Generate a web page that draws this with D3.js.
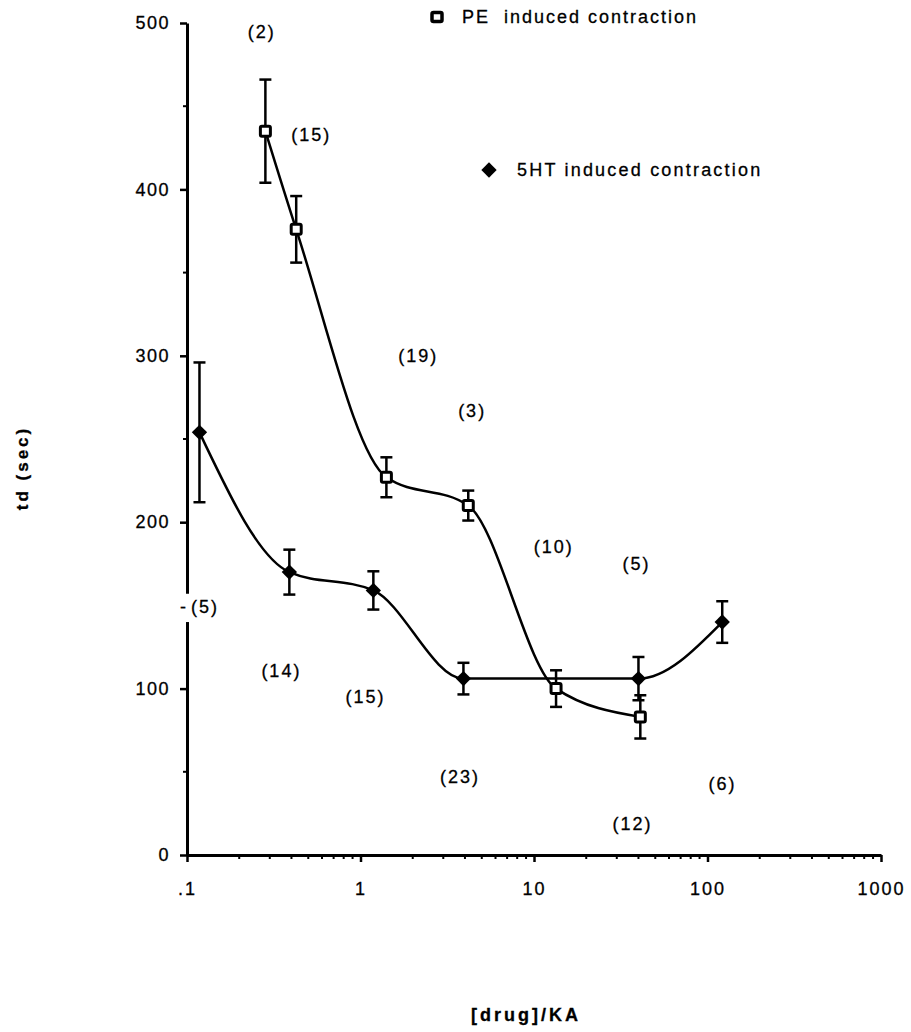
<!DOCTYPE html>
<html>
<head>
<meta charset="utf-8">
<script src="https://cdn.jsdelivr.net/npm/d3@7"></script>
<style>
  body { margin: 0; background: #fff; }
  text { font-family: "Liberation Sans", Arial, sans-serif; stroke: #000; stroke-width: 0.3px; white-space: pre; }
</style>
</head>
<body>
<div id="chart"></div>
<script>

// data

let peDose = [0.283, 0.426, 1.41, 4.18, 13.4, 41];
let peTd = [435, 376, 227, 210, 100, 83];
let peErr = [31, 20, 12, 9, 11, 13];

let htDose = [0.118, 0.389, 1.186, 3.92, 40, 121.6];
let htTd = [254, 170, 159, 106, 106, 140];
let htErr = [42, 13.5, 11.5, 9.5, 13, 12.5];

// n labels shown next to the points
let nLabels = ["(2)", "(15)", "(19)", "(3)", "(10)", "(5)", "(14)", "(15)", "(23)", "(12)", "(6)"];
let nDose = [0.27, 0.52, 2.15, 4.4, 13.0, 39, 0.35, 1.07, 3.75, 37, 122];
let nTd = [495, 433, 300, 267, 185, 175, 111, 95, 47, 19, 43];

let yTicks = [0, 100, 200, 300, 400, 500];
let xTicks = [0.1, 1, 10, 100, 1000];
let xTickLabels = [".1", "1", "10", "100", "1000"];

let margin = { top: 23, right: 30, bottom: 177, left: 187 };
let width = 911 - margin.left - margin.right;
let height = 1032 - margin.top - margin.bottom;

let x = d3.scaleLog()
  .domain([0.1, 1000])
  .range([0, width]);

let y = d3.scaleLinear()
  .domain([0, 500])
  .range([height, 0]);

let svg = d3.select("#chart")
  .append("svg")
    .attr("width", 911)
    .attr("height", 1032)
  .append("g")
    .attr("transform", `translate(${margin.left},${margin.top})`);

// minor ticks first so the main axes sit on top

let minorY = d3.range(50, 500, 100);
svg.selectAll(".minorY")
  .data(minorY)
  .join("line")
  .attr("x1", -4)
  .attr("x2", 0)
  .attr("y1", d => y(d))
  .attr("y2", d => y(d))
  .attr("stroke", "#000")
  .attr("stroke-width", 2);

let minorX = [];
for (let dec of [0.1, 1, 10, 100]) {
  for (let k = 2; k <= 9; k++) minorX.push(dec * k);
}
svg.selectAll(".minorX")
  .data(minorX)
  .join("line")
  .attr("x1", d => x(d))
  .attr("x2", d => x(d))
  .attr("y1", height)
  .attr("y2", height + 4)
  .attr("stroke", "#000")
  .attr("stroke-width", 2);

// y axis

svg.append("g")
  .call(d3.axisLeft(y)
    .tickValues(yTicks)
    .tickSize(7)
    .tickSizeOuter(0)
    .tickPadding(10))
  .call(g => g.select(".domain").attr("stroke-width", 3))
  .call(g => g.selectAll(".tick line").attr("stroke-width", 2.5))
  .selectAll(".tick text")
  .style("font-size", "18px")
  .style("letter-spacing", "1.5px")
  .style("fill", "#000");

// x axis

svg.append("g")
  .attr("transform", `translate(0,${height})`)
  .call(d3.axisBottom(x)
    .tickValues(xTicks)
    .tickFormat((d, i) => xTickLabels[i])
    .tickSize(7)
    .tickSizeOuter(0)
    .tickPadding(20))
  .call(g => g.select(".domain").attr("stroke-width", 3))
  .call(g => g.selectAll(".tick line").attr("stroke-width", 2.5))
  .selectAll(".tick text")
  .style("font-size", "18px")
  .style("letter-spacing", "2px")
  .style("fill", "#000");

// the "(5)" label breaks the y axis line

svg.append("rect")
  .attr("x", -4)
  .attr("y", y(157))
  .attr("width", 8)
  .attr("height", y(140) - y(157))
  .attr("fill", "#fff");

svg.append("text")
  .attr("x", -4)
  .attr("y", y(149))
  .attr("dy", "0.35em")
  .style("font-size", "18px")
  .style("text-anchor", "middle")
  .text("-");

svg.append("text")
  .attr("x", 4)
  .attr("y", y(149))
  .attr("dy", "0.35em")
  .style("font-size", "18px")
  .style("letter-spacing", "2px")
  .text("(5)");

// smooth curves

let line = d3.line()
  .x(d => x(d[0]))
  .y(d => y(d[1]))
  .curve(d3.curveMonotoneX);

let peData = peDose.map((d, i) => [d, peTd[i], peErr[i]]);
let htData = htDose.map((d, i) => [d, htTd[i], htErr[i]]);

for (let data of [peData, htData]) {
  svg.append("path")
    .datum(data)
    .attr("fill", "none")
    .attr("stroke", "#000")
    .attr("stroke-width", 2.5)
    .attr("d", line);
}

// error bars

function errorBars(data) {
  let g = svg.append("g")
    .attr("stroke", "#000")
    .attr("stroke-width", 2.5);
  g.selectAll(".stem")
    .data(data)
    .join("line")
    .attr("x1", d => x(d[0]))
    .attr("x2", d => x(d[0]))
    .attr("y1", d => y(d[1] - d[2]))
    .attr("y2", d => y(d[1] + d[2]));
  g.selectAll(".capTop")
    .data(data)
    .join("line")
    .attr("x1", d => x(d[0]) - 6)
    .attr("x2", d => x(d[0]) + 6)
    .attr("y1", d => y(d[1] + d[2]))
    .attr("y2", d => y(d[1] + d[2]));
  g.selectAll(".capBot")
    .data(data)
    .join("line")
    .attr("x1", d => x(d[0]) - 6)
    .attr("x2", d => x(d[0]) + 6)
    .attr("y1", d => y(d[1] - d[2]))
    .attr("y2", d => y(d[1] - d[2]));
}
errorBars(peData);
errorBars(htData);

// markers

let diamond = d3.symbol().type(d3.symbolDiamond2).size(150);

svg.selectAll(".ht")
  .data(htData)
  .join("path")
  .attr("transform", d => `translate(${x(d[0])},${y(d[1])})`)
  .attr("d", diamond)
  .attr("fill", "#000");

svg.selectAll(".pe")
  .data(peData)
  .join("rect")
  .attr("x", d => x(d[0]) - 5)
  .attr("y", d => y(d[1]) - 5)
  .attr("width", 10)
  .attr("height", 10)
  .attr("rx", 1.5)
  .attr("fill", "#fff")
  .attr("stroke", "#000")
  .attr("stroke-width", 3);

// n labels

svg.selectAll(".nlab")
  .data(nLabels)
  .join("text")
  .attr("x", (d, i) => x(nDose[i]))
  .attr("y", (d, i) => y(nTd[i]))
  .attr("dy", "0.35em")
  .style("font-size", "18px")
  .style("letter-spacing", "2px")
  .style("text-anchor", "middle")
  .text(d => d);

// legend

svg.append("rect")
  .attr("x", 437 - margin.left - 5)
  .attr("y", 17 - margin.top - 4.5)
  .attr("width", 10)
  .attr("height", 9)
  .attr("rx", 1.5)
  .attr("fill", "#fff")
  .attr("stroke", "#000")
  .attr("stroke-width", 3.5);

svg.append("text")
  .attr("x", 462 - margin.left)
  .attr("y", 17 - margin.top)
  .attr("dy", "0.35em")
  .style("font-size", "18px")
  .style("letter-spacing", "2px")
  .text("PE  induced contraction");

svg.append("path")
  .attr("transform", `translate(${489 - margin.left},${170 - margin.top})`)
  .attr("d", diamond)
  .attr("fill", "#000");

svg.append("text")
  .attr("x", 517 - margin.left)
  .attr("y", 170 - margin.top)
  .attr("dy", "0.35em")
  .style("font-size", "18px")
  .style("letter-spacing", "2.2px")
  .text("5HT induced contraction");

// axis titles

svg.append("text")
  .attr("transform", "rotate(-90)")
  .attr("x", -(468 - margin.top))
  .attr("y", 22 - margin.left)
  .attr("dy", "0.35em")
  .style("text-anchor", "middle")
  .style("font-size", "17px")
  .style("font-weight", "bold")
  .style("letter-spacing", "3px")
  .text("td (sec)");

svg.append("text")
  .attr("x", 526 - margin.left)
  .attr("y", 1015 - margin.top)
  .attr("dy", "0.35em")
  .style("text-anchor", "middle")
  .style("font-size", "18px")
  .style("font-weight", "bold")
  .style("letter-spacing", "3px")
  .text("[drug]/KA");

</script>
</body>
</html>
